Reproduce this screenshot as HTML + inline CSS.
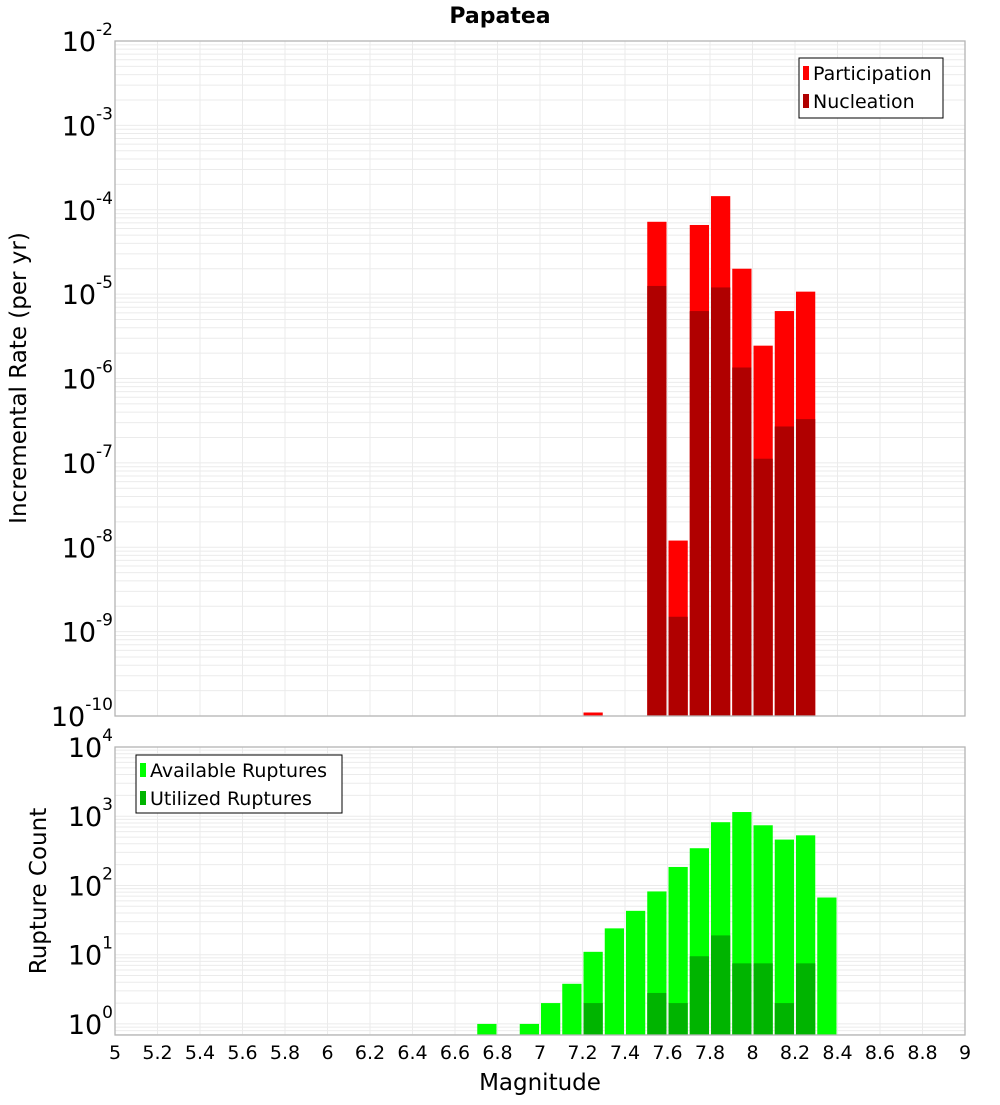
<!DOCTYPE html>
<html><head><meta charset="utf-8"><style>
body{margin:0;background:#fff;font-family:"Liberation Sans","DejaVu Sans",sans-serif}
</style></head><body>
<svg id="chart" width="1000" height="1100" xmlns="http://www.w3.org/2000/svg" font-family="DejaVu Sans, Liberation Sans, sans-serif"></svg>
<script>
const mags = [6.75,6.95,7.05,7.15,7.25,7.35,7.45,7.55,7.65,7.75,7.85,7.95,8.05,8.15,8.25,8.35];
const partMags = [7.25,7.55,7.65,7.75,7.85,7.95,8.05,8.15,8.25];
const participation = [1.1e-10,7.2e-5,1.2e-8,6.6e-5,1.45e-4,2.0e-5,2.45e-6,6.3e-6,1.07e-5];
const nucleation = [0,1.25e-5,1.5e-9,6.3e-6,1.2e-5,1.35e-6,1.12e-7,2.7e-7,3.3e-7];
const available = [1,1,2,3.8,11,24,43,82,185,345,820,1150,740,460,530,67];
const utilized = [0,0,0,0,2,0,0,2.8,2,9.5,19,7.5,7.5,2,7.5,0];
const xTicks = [5,5.2,5.4,5.6,5.8,6,6.2,6.4,6.6,6.8,7,7.2,7.4,7.6,7.8,8,8.2,8.4,8.6,8.8,9];
const topExps = [-2,-3,-4,-5,-6,-7,-8,-9,-10];
const botExps = [0,1,2,3,4];

const svg = document.getElementById('chart');
const NS = 'http://www.w3.org/2000/svg';
function mk(tag, attrs, parent){const e=document.createElementNS(NS,tag);for(const k in attrs)e.setAttribute(k,attrs[k]);(parent||svg).appendChild(e);return e;}
const X0=115,X1=965;
const x = m => X0 + (m-5)/(9-5)*(X1-X0);
const T0=41,T1=716;
const yTop = v => T0 + (-2 - Math.log10(v))/8*(T1-T0);
const B0=747,B1=1035, bLo=-0.16, bHi=4;
const yBot = v => B1 - (Math.log10(v)-bLo)/(bHi-bLo)*(B1-B0);
const bw = 0.1*(X1-X0)/4;

function grid(y0,y1,yf,lo,hi){
  for(let e=lo;e<hi;e++)for(let k=1;k<10;k++){const v=k*Math.pow(10,e);const yy=yf(v);if(yy<y0-0.5||yy>y1+0.5)continue;
    const l=mk('line',{x1:X0,x2:X1,y1:yy,y2:yy,stroke:'#ebebeb','stroke-width':1});
    }
  xTicks.forEach(t=>{const l=mk('line',{x1:x(t),x2:x(t),y1:y0,y2:y1,stroke:'#ebebeb','stroke-width':1});
    });
}
grid(T0,T1,yTop,-10,-2);
grid(B0,B1,yBot,-1,4);

partMags.forEach((m,i)=>{
  const xl=x(m)-bw/2+1, w=bw-2;
  const y=yTop(participation[i]);
  const r=mk('rect',{x:xl,y:y,width:w,height:Math.max(T1-y,2),fill:'#ff0000'});
  
  if(nucleation[i]>0){const yn=yTop(nucleation[i]);
    const n=mk('rect',{x:xl,y:yn,width:w,height:T1-yn,fill:'#b00000'});
    }
});
mags.forEach((m,i)=>{
  const xl=x(m)-bw/2+1, w=bw-2;
  const y=yBot(available[i]);
  const r=mk('rect',{x:xl,y:y,width:w,height:B1-y,fill:'#00ff00'});
  
  if(utilized[i]>0){const yu=yBot(utilized[i]);
    const u=mk('rect',{x:xl,y:yu,width:w,height:B1-yu,fill:'#00b400'});
    }
});
[[T0,T1,'top-plot-frame'],[B0,B1,'bottom-plot-frame']].forEach(([a,b,n])=>{
  const f=mk('rect',{x:X0,y:a,width:X1-X0,height:b-a,fill:'none',stroke:'#b4b4b4','stroke-width':1.3});
  });

function ylab(e,yy,name){
  const t=mk('text',{x:113,y:yy+10,'text-anchor':'end','font-size':27,fill:'#000'});
  
  const a=document.createElementNS(NS,'tspan');a.textContent='10';t.appendChild(a);
  const b=document.createElementNS(NS,'tspan');b.setAttribute('dy','-16');b.setAttribute('font-size','17');b.textContent=String(e);t.appendChild(b);
}
topExps.forEach(e=>ylab(e,yTop(Math.pow(10,e)),'y-tick-label'));
botExps.forEach(e=>ylab(e,yBot(Math.pow(10,e)),'y-tick-label'));
xTicks.forEach(t=>{const tx=mk('text',{x:x(t),y:1059,'text-anchor':'middle','font-size':19,fill:'#000'});
  tx.textContent=String(t);});
</script>
<svg style="position:absolute;left:0;top:0" width="1000" height="1100" font-family="DejaVu Sans, Liberation Sans, sans-serif">
<text x="500" y="23" text-anchor="middle" font-size="22" font-weight="bold">Papatea</text>
<text transform="translate(26,378) rotate(-90)" text-anchor="middle" font-size="23">Incremental Rate (per yr)</text>
<text transform="translate(46,891) rotate(-90)" text-anchor="middle" font-size="23">Rupture Count</text>
<text x="540" y="1090" text-anchor="middle" font-size="23">Magnitude</text>
<g>
<rect x="799" y="58" width="144" height="60" fill="#fff" stroke="#000" stroke-width="1"/>
<rect x="803" y="66" width="6" height="14" fill="#ff0000"/>
<text x="813" y="80" font-size="19">Participation</text>
<rect x="803" y="94" width="6" height="14" fill="#b00000"/>
<text x="813" y="108" font-size="19">Nucleation</text>
</g>
<g>
<rect x="136" y="755" width="206" height="58" fill="#fff" stroke="#000" stroke-width="1"/>
<rect x="140" y="763" width="6" height="14" fill="#00ff00"/>
<text x="150" y="777" font-size="19">Available Ruptures</text>
<rect x="140" y="791" width="6" height="14" fill="#00b400"/>
<text x="150" y="805" font-size="19">Utilized Ruptures</text>
</g>
</svg>
</body></html>
